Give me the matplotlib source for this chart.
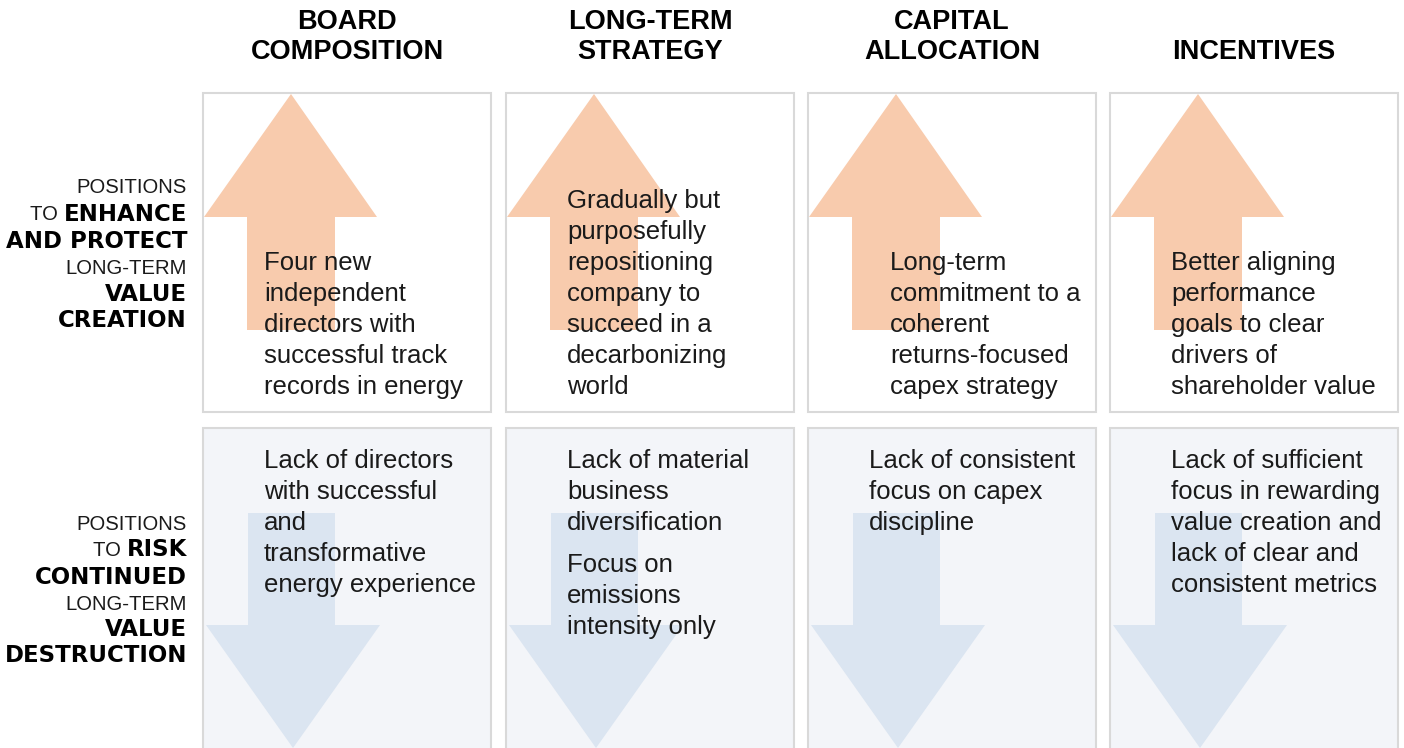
import matplotlib.pyplot as plt
from matplotlib.patches import Rectangle, Polygon

# column headers
headers = [["BOARD", "COMPOSITION"],
           ["LONG-TERM", "STRATEGY"],
           ["CAPITAL", "ALLOCATION"],
           ["INCENTIVES"]]

# upper row (value creation)
top_texts = [["Four new", "independent", "directors with", "successful track", "records in energy"],
             ["Gradually but", "purposefully", "repositioning", "company to", "succeed in a", "decarbonizing", "world"],
             ["Long-term", "commitment to a", "coherent", "returns-focused", "capex strategy"],
             ["Better aligning", "performance", "goals to clear", "drivers of", "shareholder value"]]

# lower row (value destruction), paragraphs of lines
bottom_texts = [[["Lack of directors", "with successful", "and", "transformative", "energy experience"]],
                [["Lack of material", "business", "diversification"],
                 ["Focus on", "emissions", "intensity only"]],
                [["Lack of consistent", "focus on capex", "discipline"]],
                [["Lack of sufficient", "focus in rewarding", "value creation and", "lack of clear and", "consistent metrics"]]]

# row labels: each line is a list of (text, bold)
top_label = [[("POSITIONS", False)],
             [("TO ", False), ("ENHANCE", True)],
             [("AND PROTECT", True)],
             [("LONG-TERM", False)],
             [("VALUE", True)],
             [("CREATION", True)]]
bottom_label = [[("POSITIONS", False)],
                [("TO ", False), ("RISK", True)],
                [("CONTINUED", True)],
                [("LONG-TERM", False)],
                [("VALUE", True)],
                [("DESTRUCTION", True)]]

up_color = "#f8cbad"
down_color = "#dbe5f1"
box_edge = "#d9d9d9"
low_fill = "#f3f5f9"
txt_color = "#1a1a1a"

W, H = 1404, 748
fig = plt.figure(figsize=(W / 100, H / 100), dpi=100)
ax = fig.add_axes([0, 0, 1, 1])
ax.set_xlim(0, W)
ax.set_ylim(H, 0)
ax.axis("off")

box_left = [203, 506, 808, 1110]
box_w = 288
top_y0, top_y1 = 93, 412
bot_y0, bot_y1 = 428, 760
top_text_dx = [61, 61, 82, 61]
line_h = 31
body_font = dict(family="Liberation Sans", fontsize=18.5, color=txt_color)

for i, x0 in enumerate(box_left):
    # boxes
    ax.add_patch(Rectangle((x0, top_y0), box_w, top_y1 - top_y0, facecolor="white",
                           edgecolor=box_edge, lw=1.5, zorder=1))
    ax.add_patch(Rectangle((x0, bot_y0), box_w, bot_y1 - bot_y0, facecolor=low_fill,
                           edgecolor=box_edge, lw=1.5, zorder=1))

    # up arrow
    up = [(x0 + 88, 94), (x0 + 174, 217), (x0 + 132, 217), (x0 + 132, 330),
          (x0 + 44, 330), (x0 + 44, 217), (x0 + 1, 217)]
    ax.add_patch(Polygon(up, closed=True, facecolor=up_color, edgecolor="none", zorder=2))

    # down arrow
    dn = [(x0 + 45, 513), (x0 + 132, 513), (x0 + 132, 625), (x0 + 177, 625),
          (x0 + 90, 748), (x0 + 3, 625), (x0 + 45, 625)]
    ax.add_patch(Polygon(dn, closed=True, facecolor=down_color, edgecolor="none", zorder=2))

    # header, bottom aligned
    hdr = headers[i]
    cx = x0 + box_w / 2
    for k, line in enumerate(hdr):
        y = 52 - (len(hdr) - 1 - k) * 30
        ax.text(cx, y, line, ha="center", va="center", family="Liberation Sans",
                fontsize=19.5, fontweight="bold", color="black", zorder=3)

    # top text, bottom aligned (last line at 387)
    lines = top_texts[i]
    for k, line in enumerate(lines):
        y = 387 - (len(lines) - 1 - k) * line_h
        ax.text(x0 + top_text_dx[i], y, line, ha="left", va="center", zorder=3, **body_font)

    # bottom text, top aligned
    y = 461
    for p, para in enumerate(bottom_texts[i]):
        if p > 0:
            y += 11
        for line in para:
            ax.text(x0 + 61, y, line, ha="left", va="center", zorder=3, **body_font)
            y += line_h

# row labels, right aligned with mixed weights
renderer = fig.canvas.get_renderer()


def draw_label(lines, ys, xr=187):
    for parts, y in zip(lines, ys):
        x = xr
        for txt, bold in reversed(parts):
            if bold:
                t = ax.text(x, y, txt, ha="right", va="center", family="DejaVu Sans",
                            fontsize=16.5, fontweight="bold", color="black", zorder=3)
            else:
                t = ax.text(x, y, txt, ha="right", va="center", family="Liberation Sans",
                            fontsize=14.6, color=txt_color, zorder=3)
            bb = t.get_window_extent(renderer)
            x -= bb.width


draw_label(top_label, [187, 214, 241, 268, 294, 320])
draw_label(bottom_label, [524, 550, 577, 604, 630, 656])

fig.savefig("out.png", dpi=100)
